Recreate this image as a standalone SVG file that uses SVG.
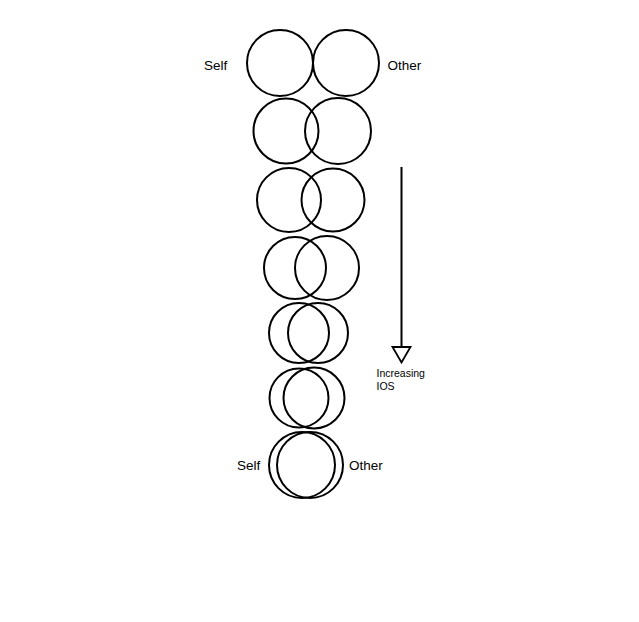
<svg xmlns="http://www.w3.org/2000/svg" width="639" height="622" viewBox="0 0 639 622">
<style>
.c{fill:none;stroke:#000;stroke-width:2}
.t{font-family:"Liberation Sans",Arial,sans-serif;fill:#000}
.l{font-size:13.5px}
.s{font-size:10.5px}
</style>
<rect width="639" height="622" fill="#fff"/>
<g id="row1"><circle class="c" cx="280" cy="63" r="33"/><circle class="c" cx="346" cy="63" r="33"/></g>
<g id="row2"><circle class="c" cx="286" cy="131" r="32.5"/><circle class="c" cx="338" cy="131" r="33"/></g>
<g id="row3"><circle class="c" cx="289" cy="200" r="32"/><circle class="c" cx="333" cy="200" r="31.5"/></g>
<g id="row4"><circle class="c" cx="295" cy="268" r="31"/><circle class="c" cx="327" cy="268" r="32"/></g>
<g id="row5"><circle class="c" cx="299" cy="333" r="30"/><circle class="c" cx="318" cy="333" r="30"/></g>
<g id="row6"><circle class="c" cx="299" cy="398" r="29.5"/><circle class="c" cx="314" cy="398" r="30.5"/></g>
<g id="row7"><circle class="c" cx="302" cy="465" r="33"/><circle class="c" cx="310" cy="465" r="33"/></g>
<g id="labels">
<text class="t l" x="204" y="69.5">Self</text>
<text class="t l" x="387.5" y="69.5">Other</text>
<text class="t l" x="237" y="469.5">Self</text>
<text class="t l" x="349" y="469.5">Other</text>
<text class="t s" x="376.5" y="377">Increasing</text>
<text class="t s" x="376.5" y="389.5">IOS</text>
</g>
<g id="connectors">
<line x1="401.5" y1="167" x2="401.5" y2="347" stroke="#000" stroke-width="2"/>
<polygon points="392.5,347 410.5,347 401.5,362.5" fill="#fff" stroke="#000" stroke-width="1.8" stroke-linejoin="miter"/>
</g>
</svg>
